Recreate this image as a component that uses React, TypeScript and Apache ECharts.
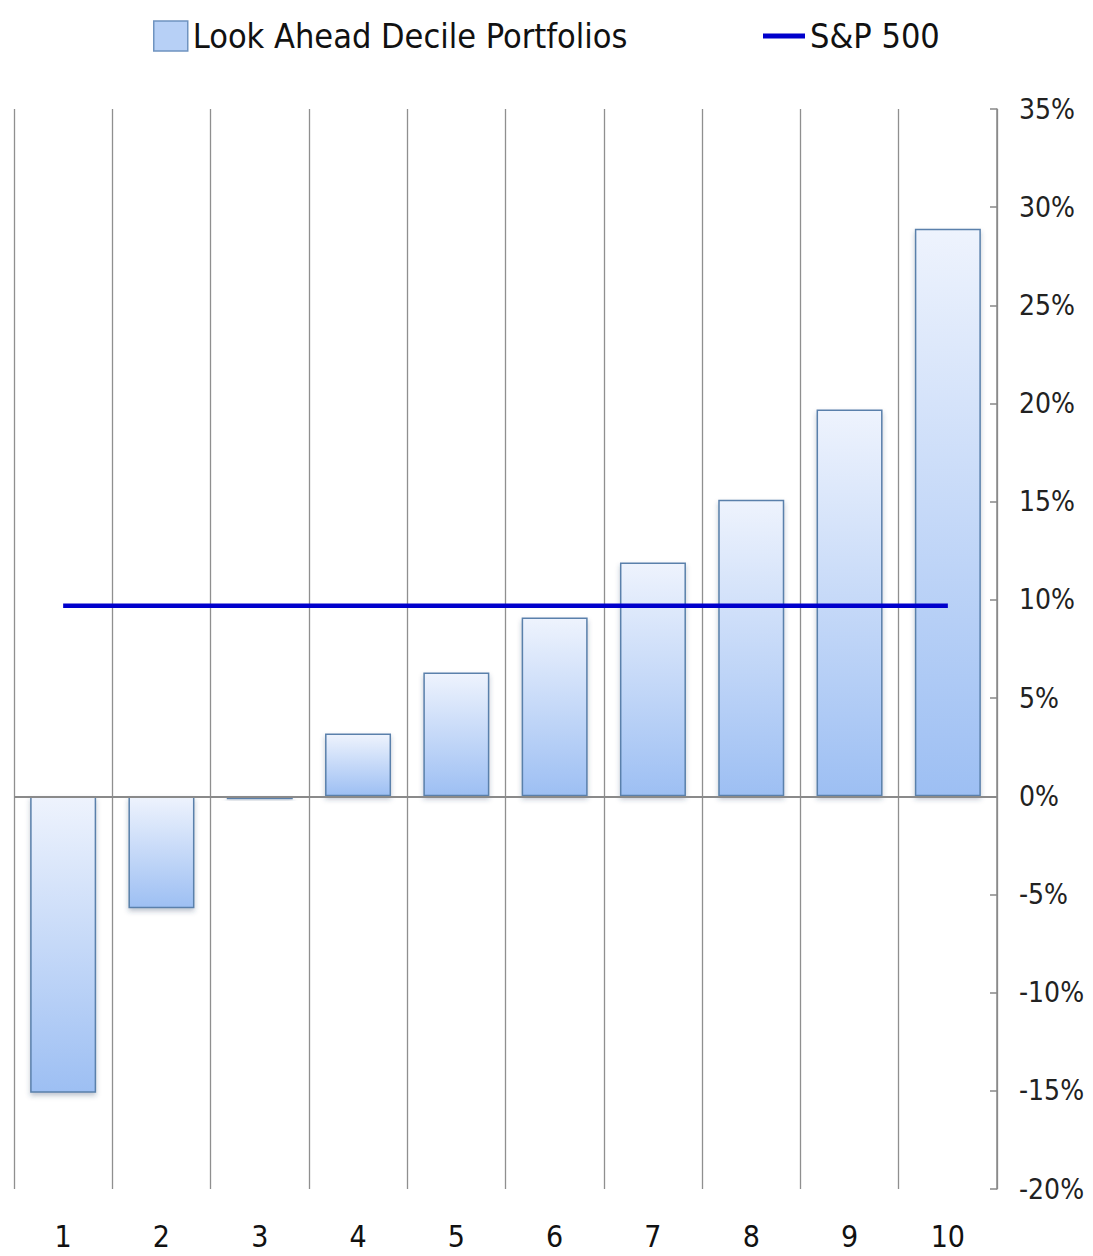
import React, { useEffect, useRef } from "react";
import * as echarts from "echarts";

const categories = ["1", "2", "3", "4", "5", "6", "7", "8", "9", "10"];
const decileReturns = [-15.1, -5.7, -0.1, 3.2, 6.3, 9.1, 11.9, 15.1, 19.7, 28.9];
const sp500Return = [9.7, 9.7, 9.7, 9.7, 9.7, 9.7, 9.7, 9.7, 9.7, 9.7];
const yTicks = { min: -20, max: 35, interval: 5 };

const FONT = "'DejaVu Sans Condensed', 'DejaVu Sans', sans-serif";

export default function App() {
  const ref = useRef<HTMLDivElement>(null);
  useEffect(() => {
    if (!ref.current) return;
    const chart = echarts.init(ref.current, undefined, { renderer: "svg" });
    const barFill = new echarts.graphic.LinearGradient(0, 0, 0, 1, [
      { offset: 0, color: "#eef3fd" },
      { offset: 1, color: "#9dbff3" },
    ]);
    chart.setOption({
      animation: false,
      backgroundColor: "#ffffff",
      textStyle: { fontFamily: FONT },
      legend: [
        {
          left: 148,
          top: 14,
          itemWidth: 34,
          itemHeight: 30,
          itemGap: 4,
          textStyle: { fontFamily: FONT, fontSize: 34, color: "#111" },
          data: [
            {
              name: "Look Ahead Decile Portfolios",
              icon: "rect",
              itemStyle: { color: "#b7d0f6", borderColor: "#6f93c0", borderWidth: 1.5 },
            },
          ],
        },
        {
          left: 758,
          top: 14,
          itemWidth: 42,
          itemHeight: 5,
          textStyle: { fontFamily: FONT, fontSize: 34, color: "#111" },
          data: [{ name: "S&P 500", icon: "rect", itemStyle: { color: "#0000cc" } }],
        },
      ],
      grid: { left: 14, right: 96, top: 109, bottom: 67, containLabel: false },
      xAxis: {
        type: "category",
        data: categories,
        boundaryGap: true,
        axisLine: { show: false, onZero: false },
        axisTick: { show: false },
        axisLabel: { fontFamily: FONT, fontSize: 30, color: "#111", margin: 32 },
        splitLine: { show: true, lineStyle: { color: "#8f8f8f", width: 1.3 } },
      },
      yAxis: {
        type: "value",
        position: "right",
        min: yTicks.min,
        max: yTicks.max,
        interval: yTicks.interval,
        axisLine: { show: true, lineStyle: { color: "#888", width: 1.5 } },
        axisTick: { show: true, inside: true, length: 7, lineStyle: { color: "#888", width: 1.5 } },
        axisLabel: {
          formatter: "{value}%",
          fontFamily: FONT,
          fontSize: 28,
          color: "#222",
          margin: 22,
        },
        splitLine: { show: false },
      },
      series: [
        {
          name: "Look Ahead Decile Portfolios",
          type: "bar",
          data: decileReturns,
          barWidth: 66,
          barMinHeight: 3,
          itemStyle: {
            color: barFill,
            borderColor: "#5a80ab",
            borderWidth: 1.5,
            shadowBlur: 5,
            shadowColor: "rgba(40,60,100,0.3)",
            shadowOffsetY: 3,
          },
          markLine: {
            silent: true,
            symbol: "none",
            label: { show: false },
            lineStyle: { color: "#8a8a8a", type: "solid", width: 2 },
            data: [{ yAxis: 0 }],
          },
          z: 2,
        },
        {
          name: "S&P 500",
          type: "line",
          data: sp500Return,
          symbol: "none",
          lineStyle: { color: "#0000cc", width: 4.5 },
          itemStyle: { color: "#0000cc" },
          z: 5,
        },
      ],
    });
    return () => chart.dispose();
  }, []);
  return <div ref={ref} style={{ width: 1093, height: 1256, margin: -8 }} />;
}
